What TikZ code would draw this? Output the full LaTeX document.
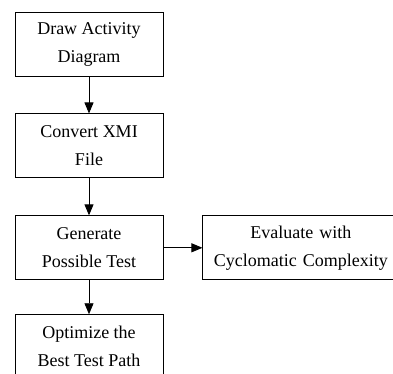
\documentclass[tikz,border=0pt]{standalone}
\usepackage{fontspec}
\setmainfont{Liberation Serif}
\usetikzlibrary{arrows.meta,positioning}

\begin{document}
\begin{tikzpicture}[x=1pt,y=1pt,font=\fontsize{18}{28}\selectfont,
  box/.style={draw,line width=0.9pt,minimum width=148pt,minimum height=64pt,align=center,inner sep=0pt},
  >={Triangle[length=11pt,width=9pt]}]
  \useasboundingbox (0,0) rectangle (393,-374);
  \node[box] (draw) at (89,-44) {Draw Activity\\Diagram};
  \node[box,below=37pt of draw] (conv) {Convert XMI\\File};
  \node[box,below=37pt of conv] (gen) {Generate\\Possible Test};
  \node[box,below=34pt of gen] (opt) {Optimize the\\Best Test Path};
  \node[box,minimum width=196pt,right=38pt of gen,xshift=1pt,text width=190pt,anchor=west] (eval) {Evaluate with\\Cyclomatic Complexity};
  \draw[->,line width=0.9pt] (draw) -- (conv);
  \draw[->,line width=0.9pt] (conv) -- (gen);
  \draw[->,line width=0.9pt] (gen) -- (opt);
  \draw[->,line width=0.9pt] (gen) -- (eval);
\end{tikzpicture}
\end{document}
